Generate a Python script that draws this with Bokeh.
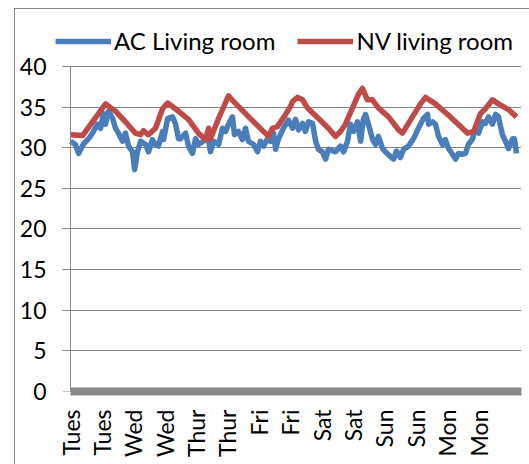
import math
from bokeh.plotting import figure
from bokeh.models import Range1d, FixedTicker, Legend, LegendItem, LinearAxis
from bokeh.embed import file_html
from bokeh.resources import INLINE

# ---- data (hours since start, temperature °C) ----
ac_hours = [0.0, 1.9, 3.1, 5.0, 6.9, 8.4, 10.3, 11.5, 12.6, 13.4, 14.5, 16.1, 17.2, 18.3, 19.9,
            21.0, 22.2, 23.7, 24.5, 25.6, 26.8, 28.7, 29.8, 31.3, 32.5, 33.6, 35.2, 35.6, 37.1,
            39.0, 40.1, 41.3, 42.0, 44.0, 45.1, 46.6, 47.8, 48.9, 50.8, 52.4, 53.5, 54.7, 56.6,
            58.1, 59.3, 60.4, 61.9, 62.7, 64.2, 65.7, 66.9, 68.0, 70.0, 71.5, 72.6, 73.8, 75.3,
            76.5, 77.6, 78.4, 79.5, 81.4, 83.3, 84.9, 86.0, 87.2, 88.7, 89.8, 91.0, 92.5, 93.7,
            94.8, 96.3, 97.5, 98.6, 101.3, 103.2, 104.4, 105.9, 107.0, 108.2, 109.7, 110.9,
            112.0, 112.8, 113.9, 115.4, 116.6, 117.7, 119.3, 120.4, 122.3, 123.5, 124.6, 126.1,
            127.3, 129.2, 131.1, 133.0, 134.9, 136.5, 136.9, 138.4, 139.5, 140.7, 142.2, 143.3,
            144.5, 146.0, 147.2, 148.3, 149.8, 151.0, 152.1, 153.7, 154.8, 156.0, 157.5, 158.6,
            159.8, 161.3, 162.5, 163.6, 165.1, 166.3, 167.4, 169.0, 169.7, 170.5]
ac_temp = [30.8, 30.4, 29.3, 30.5, 31.1, 31.8, 32.9, 32.4, 34.2, 32.9, 34.5, 33.6, 32.4, 31.8, 30.8,
           31.8, 30.2, 29.5, 27.3, 29.5, 30.8, 30.4, 29.5, 31.0, 30.4, 30.2, 32.0, 31.0, 33.6,
           33.8, 33.0, 31.1, 31.1, 31.8, 30.2, 29.3, 31.1, 30.4, 30.8, 31.6, 29.5, 30.8, 30.4,
           32.4, 32.0, 32.9, 33.8, 31.6, 32.0, 31.0, 32.4, 30.8, 30.4, 29.5, 30.8, 30.2, 31.1,
           30.8, 31.8, 29.8, 31.1, 32.4, 33.4, 32.4, 33.5, 32.2, 33.0, 32.0, 33.2, 33.0, 30.8,
           29.8, 29.5, 28.6, 29.8, 29.5, 30.2, 29.5, 30.8, 32.9, 32.0, 33.2, 30.8,
           33.6, 34.1, 32.9, 31.1, 30.4, 31.4, 29.9, 29.5, 28.9, 28.6, 29.6, 28.8,
           29.8, 30.2, 31.1, 32.4, 33.6, 34.1, 32.9, 33.2, 32.9, 31.4, 30.4, 31.0,
           29.9, 29.2, 28.6, 29.3, 29.2, 29.3, 30.4, 31.1, 32.4, 31.8, 33.2, 33.0,
           33.8, 32.9, 34.1, 33.8, 31.6, 30.8, 29.9, 31.1, 31.1, 29.3]

nv_hours = [0, 4.6, 13.4, 17.2, 21.0, 24.8, 26.8, 27.9, 29.8, 32.5, 35.2, 37.1, 40.1, 45.1, 48.9,
            51.6, 52.8, 53.5, 56.6, 60.4, 62.3, 66.9, 71.9, 75.7, 77.2, 79.1, 82.2, 84.1, 84.9,
            86.8, 88.7, 90.6, 94.8, 98.6, 101.3, 103.2, 105.1, 107.8, 110.1, 111.6, 113.5,
            115.4, 117.7, 121.6, 125.4, 126.9, 130.7, 133.8, 135.7, 139.5, 144.5, 149.8, 151.8,
            154.1, 156.7, 158.6, 161.3, 163.6, 167.4, 170.5]
nv_temp = [31.6, 31.5, 35.4, 34.5, 33.2, 31.8, 31.6, 32.1, 31.6, 32.4, 34.8, 35.5, 34.8, 33.5, 31.8,
           31.0, 32.4, 31.1, 33.6, 36.4, 35.7, 34.2, 32.6, 31.4, 32.4, 32.6, 34.1, 35.1, 35.7,
           36.2, 35.9, 34.9, 33.6, 32.4, 31.4, 32.0, 32.9, 34.9, 36.6, 37.3, 35.9,
           35.9, 34.9, 33.8, 32.2, 31.8, 33.8, 35.4, 36.2, 35.4, 34.0, 32.4, 31.8,
           32.0, 34.2, 34.8, 35.9, 35.4, 34.7, 33.8]

tick_hours = [0, 12, 24, 36, 48, 60, 72, 84, 96, 108, 120, 132, 144, 156]
tick_labels = ["Tues", "Tues", "Wed", "Wed", "Thur", "Thur", "Fri", "Fri",
               "Sat", "Sat", "Sun", "Sun", "Mon", "Mon"]
y_ticks = [0, 5, 10, 15, 20, 25, 30, 35, 40]
series_names = ["AC Living room", "NV living room"]

X_END = 172.4          # right end of the category axis (hours)
Y_MAX = 40             # top of the value axis

FONT = "Lato"
GRAY = "#878787"

# frame extended up/left so the legend sits inside it; axes bounded to the real plot area
p = figure(frame_width=466, frame_height=369, output_backend="svg", toolbar_location=None,
           x_range=Range1d(-5.734, X_END), y_range=Range1d(0, 45.415),
           min_border_left=40, min_border_right=8, min_border_top=13, min_border_bottom=73,
           styles={"margin-left": "14px", "margin-top": "8px",
                   "border-left": "1px solid #878787", "border-top": "1px solid #878787"})
p.outline_line_color = None
p.background_fill_color = "white"
p.border_fill_color = "white"

r_ac = p.line(ac_hours, ac_temp, line_color="#4A7EBB", line_width=5.5, line_join="round")
r_nv = p.line(nv_hours, nv_temp, line_color="#BE4B48", line_width=5.5, line_join="round")

# grid
p.xgrid.grid_line_color = None
ygrid = p.ygrid[0]
ygrid.grid_line_color = GRAY
ygrid.grid_line_width = 1
ygrid.ticker = FixedTicker(ticks=y_ticks)
if "cross_bounds" in ygrid.properties():
    ygrid.cross_bounds = (-3.06, X_END)
ygrid.level = "underlay"

# y axis labels (regular left axis, no line / ticks)
ylab = p.yaxis[0]
ylab.ticker = FixedTicker(ticks=y_ticks)
ylab.bounds = (0, Y_MAX)
ylab.axis_line_color = None
ylab.major_tick_line_color = None
ylab.minor_tick_line_color = None
ylab.major_tick_out = 0
ylab.major_tick_in = 0
ylab.major_label_standoff = 9
ylab.major_label_text_font = FONT
ylab.major_label_text_font_size = "23px"
ylab.major_label_text_color = "black"

# y axis line and ticks, drawn at hour 0
yline = LinearAxis(ticker=FixedTicker(ticks=y_ticks), fixed_location=0, bounds=(0, Y_MAX),
                   axis_line_color=GRAY, major_tick_line_color=GRAY,
                   major_tick_out=8, major_tick_in=0, minor_tick_line_color=None,
                   major_label_text_alpha=0, major_label_text_font_size="1px")
p.add_layout(yline, "left")

# x axis
xax = p.xaxis[0]
xax.ticker = FixedTicker(ticks=tick_hours)
xax.bounds = (0, X_END)
xax.major_label_overrides = {h: lab for h, lab in zip(tick_hours, tick_labels)}
xax.major_label_orientation = math.pi / 2
xax.axis_line_color = GRAY
xax.axis_line_width = 8
xax.major_tick_line_color = None
xax.minor_tick_line_color = None
xax.major_label_standoff = 12
xax.major_label_text_font = FONT
xax.major_label_text_font_size = "23px"
xax.major_label_text_color = "black"

legend = Legend(items=[LegendItem(label=series_names[0], renderers=[r_ac]),
                       LegendItem(label=series_names[1], renderers=[r_nv])],
                orientation="horizontal", location=(0, 336),
                border_line_color=None, background_fill_alpha=0,
                label_text_font=FONT, label_text_font_size="24px",
                label_text_color="black",
                glyph_width=56, glyph_height=24, label_height=24,
                label_standoff=3, spacing=22, padding=0, margin=0)
p.add_layout(legend)

open("out.html", "w").write(file_html(p, INLINE))
